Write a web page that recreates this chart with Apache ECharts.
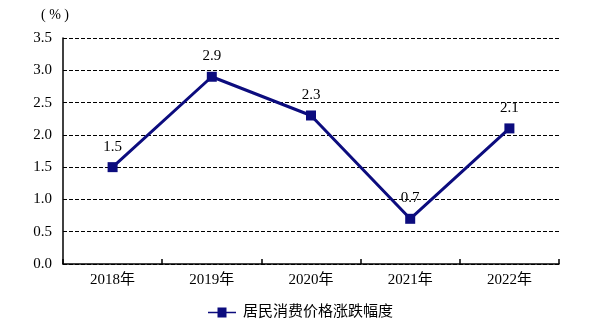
<!DOCTYPE html>
<html>
<head>
<meta charset="utf-8">
<script src="https://cdn.jsdelivr.net/npm/echarts@6/dist/echarts.min.js"></script>
<style>
  html, body { margin: 0; padding: 0; background: #fff; }
  #chart { width: 590px; height: 324px; }
</style>
</head>
<body>
<div id="chart"></div>
<script>
// Annual change in consumer prices, 2018–2022
const years = ['2018年', '2019年', '2020年', '2021年', '2022年'];
const cpiChange = [1.5, 2.9, 2.3, 0.7, 2.1];
const seriesName = '居民消费价格涨跌幅度';
const yUnit = '( % )';

const serif = '"Liberation Serif", "Times New Roman", "Noto Sans CJK SC", serif';
const navy = '#0c0c7e';

const chart = echarts.init(document.getElementById('chart'), null, { renderer: 'canvas' });
chart.setOption({
  animation: false,
  backgroundColor: '#fff',
  grid: { left: 63, right: 31, top: 38, bottom: 60, containLabel: false },
  graphic: [{
    type: 'text',
    left: 41,
    top: 8,
    style: { text: yUnit, font: '14px ' + serif, fill: '#000' }
  }],
  legend: {
    bottom: 4,
    left: 208,
    padding: 0,
    itemWidth: 28,
    itemHeight: 10,
    itemGap: 10,
    textStyle: { fontFamily: serif, fontSize: 15, color: '#000', padding: [0, 0, 0, 2] },
    data: [{ name: seriesName, icon: 'path://M0,4.3 L9.5,4.3 L9.5,0 L18.5,0 L18.5,4.3 L28,4.3 L28,5.7 L18.5,5.7 L18.5,10 L9.5,10 L9.5,5.7 L0,5.7 Z' }]
  },
  xAxis: {
    type: 'category',
    data: years,
    boundaryGap: true,
    axisLine: { lineStyle: { color: '#000', width: 1.5 } },
    axisTick: { show: true, inside: true, length: 5, lineStyle: { color: '#000', width: 1.5 } },
    axisLabel: { fontFamily: serif, fontSize: 15, color: '#000', margin: 9 }
  },
  yAxis: {
    type: 'value',
    min: 0,
    max: 3.5,
    interval: 0.5,
    axisLine: { show: true, lineStyle: { color: '#000', width: 1.5 } },
    axisTick: { show: false },
    axisLabel: {
      fontFamily: serif, fontSize: 15, color: '#000', margin: 11,
      formatter: v => v.toFixed(1)
    },
    splitLine: { show: true, lineStyle: { color: '#000', type: [4, 2], width: 1 } }
  },
  series: [{
    name: seriesName,
    type: 'line',
    data: cpiChange,
    symbol: 'rect',
    symbolSize: 10,
    color: navy,
    lineStyle: { color: navy, width: 3 },
    itemStyle: { color: navy },
    label: {
      show: true,
      position: 'top',
      distance: 8,
      fontFamily: serif,
      fontSize: 15,
      color: '#000',
      formatter: p => p.value.toFixed(1)
    }
  }]
});
</script>
</body>
</html>
